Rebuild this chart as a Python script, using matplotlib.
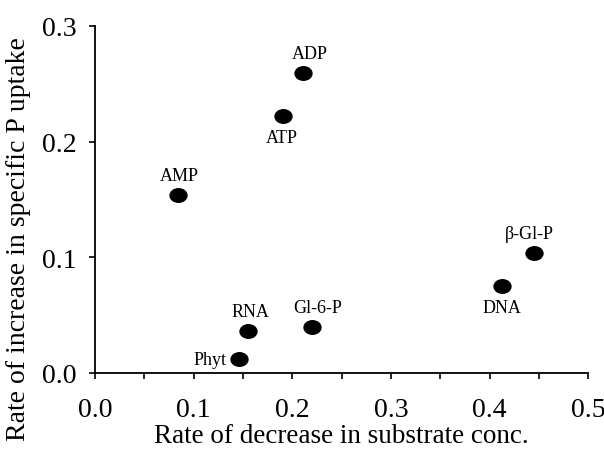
import numpy as np
import matplotlib
matplotlib.use('Agg')
import matplotlib.pyplot as plt
from matplotlib.markers import MarkerStyle
from matplotlib.transforms import Affine2D

# substrates
names = ['ADP', 'ATP', 'AMP', 'RNA', 'Phyt', 'Gl-6-P', 'DNA', 'β-Gl-P']
decrease = [0.211, 0.191, 0.084, 0.155, 0.146, 0.220, 0.413, 0.445]
uptake = [0.259, 0.222, 0.154, 0.036, 0.012, 0.040, 0.075, 0.104]
# label offsets (points) and alignment for each dot
offs = [(5, 8), (-1, -9), (1, 8), (2, 8), (-9, 0), (4, 8), (0, -9), (-3, 8)]
aligns = [('center', 'bottom'), ('center', 'top'), ('center', 'bottom'),
          ('center', 'bottom'), ('right', 'center'), ('center', 'bottom'),
          ('center', 'top'), ('center', 'bottom')]

plt.rcParams['font.family'] = ['Liberation Serif', 'DejaVu Serif']

fig = plt.figure(figsize=(6.04, 4.56), dpi=100)
ax = fig.add_axes([0.157, 0.180, 0.817, 0.761])

dot = MarkerStyle('o', transform=Affine2D().scale(1.25, 1.0))
ax.scatter(decrease, uptake, s=95, marker=dot, color='black', zorder=3)

for n, x, y, o, a in zip(names, decrease, uptake, offs, aligns):
    ax.annotate(n, (x, y), xytext=o, textcoords='offset points',
                ha=a[0], va=a[1], fontsize=13)

ax.set_xlim(0, 0.5)
ax.set_ylim(0, 0.3)
ax.set_xticks(np.arange(0, 0.51, 0.1))
ax.set_xticks(np.arange(0.05, 0.5, 0.1), minor=True)
ax.set_yticks(np.arange(0, 0.31, 0.1))
ax.xaxis.set_major_formatter(plt.FormatStrFormatter('%.1f'))
ax.yaxis.set_major_formatter(plt.FormatStrFormatter('%.1f'))
ax.tick_params(labelsize=20, width=1.2, length=4)
ax.tick_params(which='minor', width=1.2, length=4)
ax.tick_params(axis='x', pad=13)
ax.tick_params(axis='y', pad=9)
for s in ['top', 'right']:
    ax.spines[s].set_visible(False)
for s in ['left', 'bottom']:
    ax.spines[s].set_linewidth(1.3)

ax.set_xlabel('Rate of decrease in substrate conc.', fontsize=19.5)
ax.set_ylabel('Rate of increase in specific P uptake', fontsize=20)
ax.xaxis.set_label_coords(0.5, -0.145)
ax.yaxis.set_label_coords(-0.13, 0.39)

fig.savefig('out.png', dpi=100)
